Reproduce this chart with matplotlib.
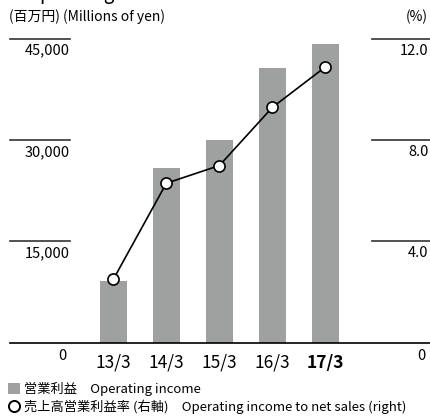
import matplotlib.pyplot as plt
from matplotlib.patches import Patch
from matplotlib.lines import Line2D

plt.rcParams['font.family'] = ['Noto Sans CJK JP', 'DejaVu Sans']

# data
years = ["13/3", "14/3", "15/3", "16/3", "17/3"]
income = [9100, 25900, 30000, 40700, 44250]       # 百万円
margin = [2.5, 6.3, 7.0, 9.3, 10.9]               # %
left_ticks = [15000, 30000, 45000]
left_labels = ["15,000", "30,000", "45,000"]
right_labels = ["4.0", "8.0", "12.0"]

W, H = 431, 416
fig = plt.figure(figsize=(W / 100, H / 100), dpi=100)

# axes box in pixels: left 10, right 430, baseline 342.7, top 39
ax = fig.add_axes([10 / W, (H - 342.7) / H, 420 / W, 303.7 / H])
ax2 = ax.twinx()

x = list(range(len(years)))
ax.bar(x, income, width=0.5, color="#9fa0a0", zorder=1)
ax2.plot(x, margin, color="black", lw=1.2, marker="o", ms=8,
         mfc="white", mec="black", mew=1.2, zorder=3)

ax.set_xlim(-1.947, 5.97)
ax.set_ylim(0, 45000)
ax2.set_ylim(0, 12)

for a in (ax, ax2):
    for s in ("top", "left", "right"):
        a.spines[s].set_visible(False)
    a.set_yticks([])
    a.tick_params(axis="x", length=0)
ax.spines["bottom"].set_color("black")
ax.spines["bottom"].set_linewidth(1.2)
ax2.spines["bottom"].set_visible(False)

ax.set_xticks(x)
ax.set_xticklabels(years, fontsize=12.5)
ax.tick_params(axis="x", pad=8)
ax.get_xticklabels()[-1].set_fontweight("bold")

# tick lines and labels on both sides
lx = 60 / 420
rx = 361.7 / 420
tf = ax.get_yaxis_transform()
for v, ll, rl in zip(left_ticks, left_labels, right_labels):
    ax.axhline(v, xmin=0, xmax=lx, color="#333333", lw=1.2, clip_on=False)
    ax.axhline(v, xmin=rx, xmax=1, color="#333333", lw=1.2, clip_on=False)
    ax.text(lx, v - 700, ll, transform=tf, ha="right", va="top", fontsize=10.5)
    ax.text(0.997, v - 700, rl, transform=tf, ha="right", va="top", fontsize=10.5)
ax.text(lx - 0.008, -1000, "0", transform=tf, ha="right", va="top", fontsize=10.5)
ax.text(0.99, -1000, "0", transform=tf, ha="right", va="top", fontsize=10.5)

# header texts (title is cut off by the top edge in the source)
fig.text(26 / W, 1 + 1.5 / H, "Operating Income", fontsize=13.5, va="baseline")
fig.text(9 / W, 1 - 21 / H, "(百万円) (Millions of yen)", fontsize=10, va="baseline")
fig.text(428 / W, 1 - 21 / H, "(%)", fontsize=10, va="baseline", ha="right")

# legend
handles = [
    Patch(facecolor="#9fa0a0", edgecolor="none"),
    Line2D([], [], ls="none", marker="o", ms=8, mfc="white", mec="black", mew=1.4),
]
labels = ["営業利益　Operating income",
          "売上高営業利益率 (右軸)　Operating income to net sales (right)"]
fig.legend(handles, labels, loc="upper left", bbox_to_anchor=(8 / W, 1 - 382 / H),
           frameon=False, fontsize=9.5, handlelength=0.9, handleheight=0.9,
           handletextpad=0.3, labelspacing=0.25, borderpad=0, borderaxespad=0)

fig.savefig("out.png", dpi=100)
